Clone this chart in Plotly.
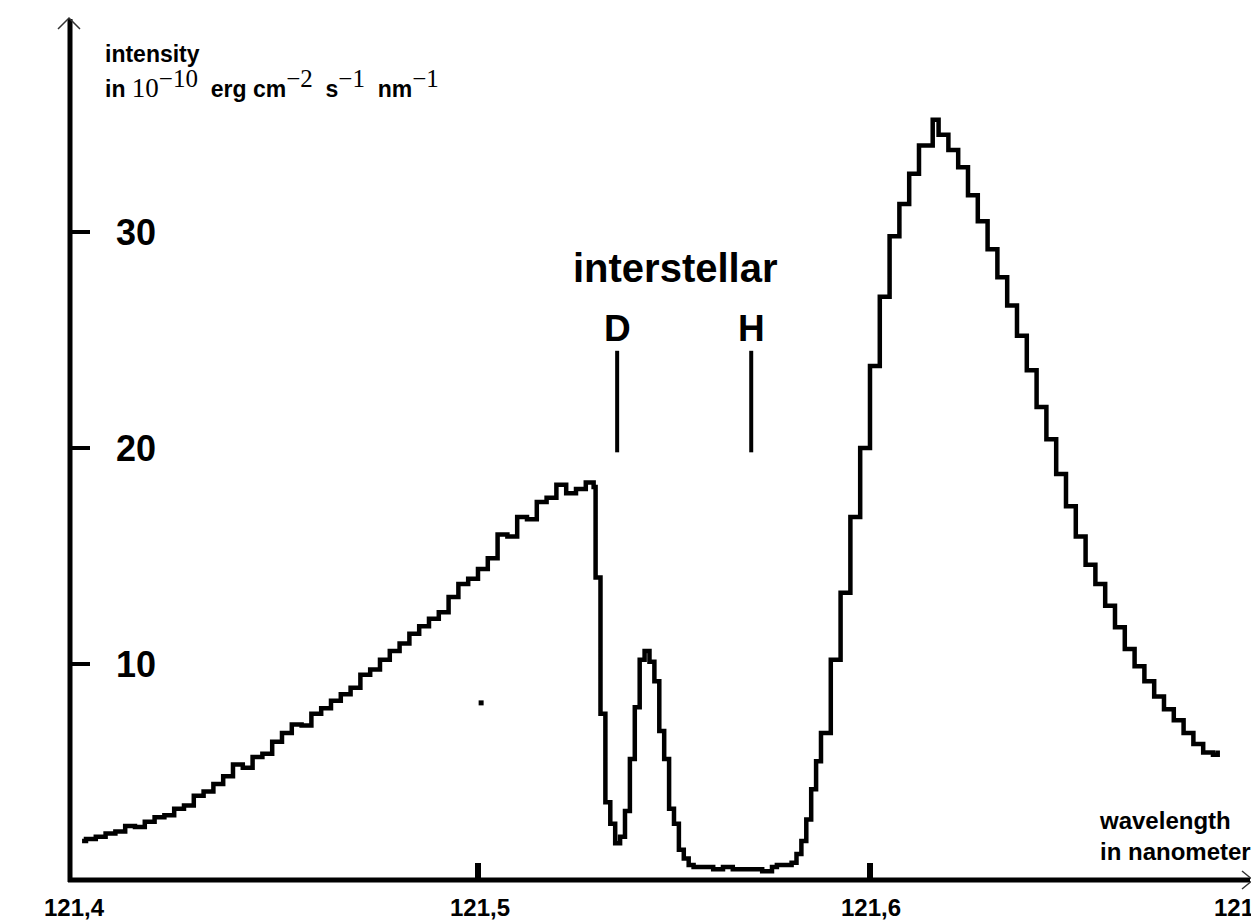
import plotly.graph_objects as go

# ---------------- data ----------------
wavelength = [
    121.3990, 121.4000, 121.4025, 121.4050, 121.4075, 121.4100, 121.4125, 121.4150,
    121.4175, 121.4200, 121.4225, 121.4250, 121.4275, 121.4300, 121.4325, 121.4350,
    121.4375, 121.4400, 121.4425, 121.4450, 121.4475, 121.4500, 121.4525, 121.4550,
    121.4575, 121.4600, 121.4625, 121.4650, 121.4675, 121.4700, 121.4725, 121.4750,
    121.4775, 121.4800, 121.4825, 121.4850, 121.4875, 121.4900, 121.4925, 121.4950,
    121.4975, 121.5000, 121.5025, 121.5050, 121.5075, 121.5100, 121.5125, 121.5150,
    121.5175, 121.5200, 121.5225, 121.5250, 121.5275, 121.5295, 121.5300, 121.53125,
    121.5325, 121.53375, 121.5350, 121.53625, 121.5375, 121.53875, 121.5400, 121.54125,
    121.5425, 121.54375, 121.5450, 121.54625, 121.5475, 121.54875, 121.5500, 121.55125,
    121.5525, 121.55375, 121.5550, 121.5575, 121.5600, 121.5625, 121.5650, 121.5675,
    121.5700, 121.5725, 121.5750, 121.57625, 121.5775, 121.57875, 121.5800, 121.58125,
    121.5825, 121.58375, 121.5850, 121.58625, 121.5875, 121.5900, 121.5925, 121.5950,
    121.5975, 121.6000, 121.6025, 121.6050, 121.6075, 121.6100, 121.6125, 121.6150,
    121.6160, 121.6175, 121.6200, 121.6225, 121.6250, 121.6275, 121.6300, 121.6325,
    121.6350, 121.6375, 121.6400, 121.6425, 121.6450, 121.6475, 121.6500, 121.6525,
    121.6550, 121.6575, 121.6600, 121.6625, 121.6650, 121.6675, 121.6700, 121.6725,
    121.6750, 121.6775, 121.6800, 121.6825, 121.6850, 121.6875, 121.6887,
]
intensity = [
    1.8, 1.9, 2.0, 2.15, 2.25, 2.5, 2.45, 2.7,
    2.9, 3.0, 3.3, 3.45, 3.9, 4.1, 4.45, 4.8,
    5.35, 5.2, 5.7, 5.85, 6.4, 6.8, 7.2, 7.15,
    7.7, 7.95, 8.3, 8.6, 8.9, 9.5, 9.75, 10.2,
    10.6, 10.95, 11.4, 11.75, 12.1, 12.4, 13.1, 13.7,
    13.95, 14.4, 14.9, 16.0, 15.9, 16.8, 16.7, 17.5,
    17.7, 18.3, 17.9, 18.1, 18.4, 18.2, 14.0, 7.7,
    3.6, 2.6, 1.7, 2.0, 3.2, 5.6, 8.0, 10.2,
    10.6, 10.1, 9.2, 6.9, 5.6, 3.3, 2.6, 1.4,
    1.0, 0.7, 0.6, 0.6, 0.5, 0.6, 0.5, 0.5,
    0.5, 0.4, 0.6, 0.7, 0.7, 0.7, 0.8, 1.2,
    1.8, 2.8, 4.2, 5.5, 6.8, 10.2, 13.3, 16.8,
    20.0, 23.8, 27.0, 29.8, 31.3, 32.7, 34.0, 34.0,
    35.2, 34.5, 33.8, 33.0, 31.7, 30.5, 29.2, 27.9,
    26.6, 25.2, 23.6, 21.9, 20.4, 18.8, 17.3, 15.9,
    14.6, 13.7, 12.7, 11.7, 10.7, 9.9, 9.2, 8.5,
    7.9, 7.4, 6.8, 6.3, 5.9, 5.8, 6.0,
]
stray_wavelength = [121.5008]
stray_intensity = [8.2]

x_tick_values = [121.4, 121.5, 121.6, 121.7]
x_tick_labels = ["121,4", "121,5", "121,6", "121,7"]
y_tick_values = [10, 20, 30]
y_tick_labels = ["10", "20", "30"]

line_names = ["D", "H"]
line_wavelengths = [121.5355, 121.5697]
line_bottom = 19.8
line_top = 24.5

# ---------------- layout geometry ----------------
PAGE_OFF = 8                      # default body margin of the html page
W, H = 1259 - PAGE_OFF, 924 - PAGE_OFF
ML, MR, MT, MB = 70 - PAGE_OFF, 7, 18 - PAGE_OFF, 44
PW, PH = W - ML - MR, H - MT - MB
x_range = [121.39592, 121.39592 + PW / 3920.0]
y_range = [0, PH / 21.6]


def px(xpix):
    """page pixel -> paper x"""
    return (xpix - 70) / PW


def py(ypix):
    """page pixel -> paper y"""
    return (880 - ypix) / PH


def xdata_to_paper(v):
    return (v - x_range[0]) / (x_range[1] - x_range[0])


FONT = "Liberation Sans"
fig = go.Figure()
fig.add_trace(go.Scatter(
    x=wavelength, y=intensity, mode="lines",
    line=dict(color="black", width=4.5, shape="hv"),
    hoverinfo="skip", showlegend=False,
))
fig.add_trace(go.Scatter(
    x=stray_wavelength, y=stray_intensity, mode="markers",
    marker=dict(color="black", size=5, symbol="square"),
    hoverinfo="skip", showlegend=False,
))

shapes = []
# axes
shapes.append(dict(type="line", xref="paper", yref="paper", x0=0, x1=0, y0=py(882), y1=py(19),
                   line=dict(color="black", width=5)))
shapes.append(dict(type="line", xref="paper", yref="paper", x0=px(68), x1=px(1250), y0=0, y1=0,
                   line=dict(color="black", width=5)))
# arrow heads (thin open chevrons)
shapes.append(dict(type="path", xref="paper", yref="paper",
                   path=f"M {px(58)} {py(29)} L {px(69)} {py(18)} L {px(80)} {py(29)}",
                   line=dict(color="#333", width=1.5)))
shapes.append(dict(type="path", xref="paper", yref="paper",
                   path=f"M {px(1242)} {py(871)} L {px(1253)} {py(880)} L {px(1242)} {py(889)}",
                   line=dict(color="#333", width=1.5)))
# x ticks
for v in x_tick_values:
    if x_range[0] + 0.01 < v < x_range[1]:
        shapes.append(dict(type="line", xref="x", yref="paper", x0=v, x1=v, y0=0, y1=py(863),
                           line=dict(color="black", width=6)))
# y ticks
for v in y_tick_values:
    shapes.append(dict(type="line", xref="paper", yref="y", x0=0, x1=px(90), y0=v, y1=v,
                       line=dict(color="black", width=4)))
# interstellar line markers
for lw in line_wavelengths:
    shapes.append(dict(type="line", xref="x", yref="y", x0=lw, x1=lw, y0=line_bottom, y1=line_top,
                       line=dict(color="black", width=4)))

annotations = []
# x tick labels
x_label_shift = [-11, 2, 1, -18]
for v, t, s in zip(x_tick_values, x_tick_labels, x_label_shift):
    annotations.append(dict(x=xdata_to_paper(v), xref="paper", y=py(907), yref="paper",
                            text=t, showarrow=False, xanchor="center", yanchor="middle",
                            xshift=s, font=dict(family=FONT, size=24, color="black", weight="bold")))
# y tick labels
for v, t in zip(y_tick_values, y_tick_labels):
    annotations.append(dict(x=px(114), xref="paper", y=v, yref="y", text=t, showarrow=False,
                            xanchor="left", yanchor="middle",
                            font=dict(family=FONT, size=36, color="black", weight="bold")))
# axis titles
num = "<span style=\"font-family:'Liberation Serif';font-weight:normal;font-size:27px\">"
sup = "<sup><span style=\"font-family:'Liberation Serif';font-weight:normal;font-size:25px\">"
ytitle_2 = ("in " + num + "10</span>" + sup + "−10</span></sup>  erg cm"
            + sup + "−2</span></sup>  s" + sup + "−1</span></sup>  nm" + sup + "−1</span></sup>")
annotations.append(dict(x=px(103), xref="paper", y=py(69), yref="paper", text="intensity",
                        showarrow=False, xanchor="left", yanchor="bottom", align="left",
                        font=dict(family=FONT, size=23, color="black", weight="bold")))
annotations.append(dict(x=px(103), xref="paper", y=py(105), yref="paper", text=ytitle_2,
                        showarrow=False, xanchor="left", yanchor="bottom", align="left",
                        font=dict(family=FONT, size=23, color="black", weight="bold")))
annotations.append(dict(x=px(1097), xref="paper", y=py(805), yref="paper",
                        text="wavelength<br>in nanometer", showarrow=False,
                        xanchor="left", yanchor="top", align="left",
                        font=dict(family=FONT, size=24, color="black", weight="bold")))
# interstellar labels
annotations.append(dict(x=(line_wavelengths[0] + line_wavelengths[1]) / 2, xref="x",
                        y=py(268), yref="paper", text="interstellar", showarrow=False,
                        xanchor="center", yanchor="middle", xshift=-9,
                        font=dict(family=FONT, size=40, color="black", weight="bold")))
for lw, name in zip(line_wavelengths, line_names):
    annotations.append(dict(x=lw, xref="x", y=py(328), yref="paper", text=name,
                            showarrow=False, xanchor="center", yanchor="middle",
                            font=dict(family=FONT, size=37, color="black", weight="bold")))

fig.update_layout(
    width=W, height=H,
    margin=dict(l=ML, r=MR, t=MT, b=MB, pad=0),
    paper_bgcolor="white", plot_bgcolor="white",
    xaxis=dict(range=x_range, visible=False, fixedrange=True),
    yaxis=dict(range=y_range, visible=False, fixedrange=True),
    shapes=shapes, annotations=annotations, showlegend=False,
)
fig.write_html("out.html", config={"displayModeBar": False})
